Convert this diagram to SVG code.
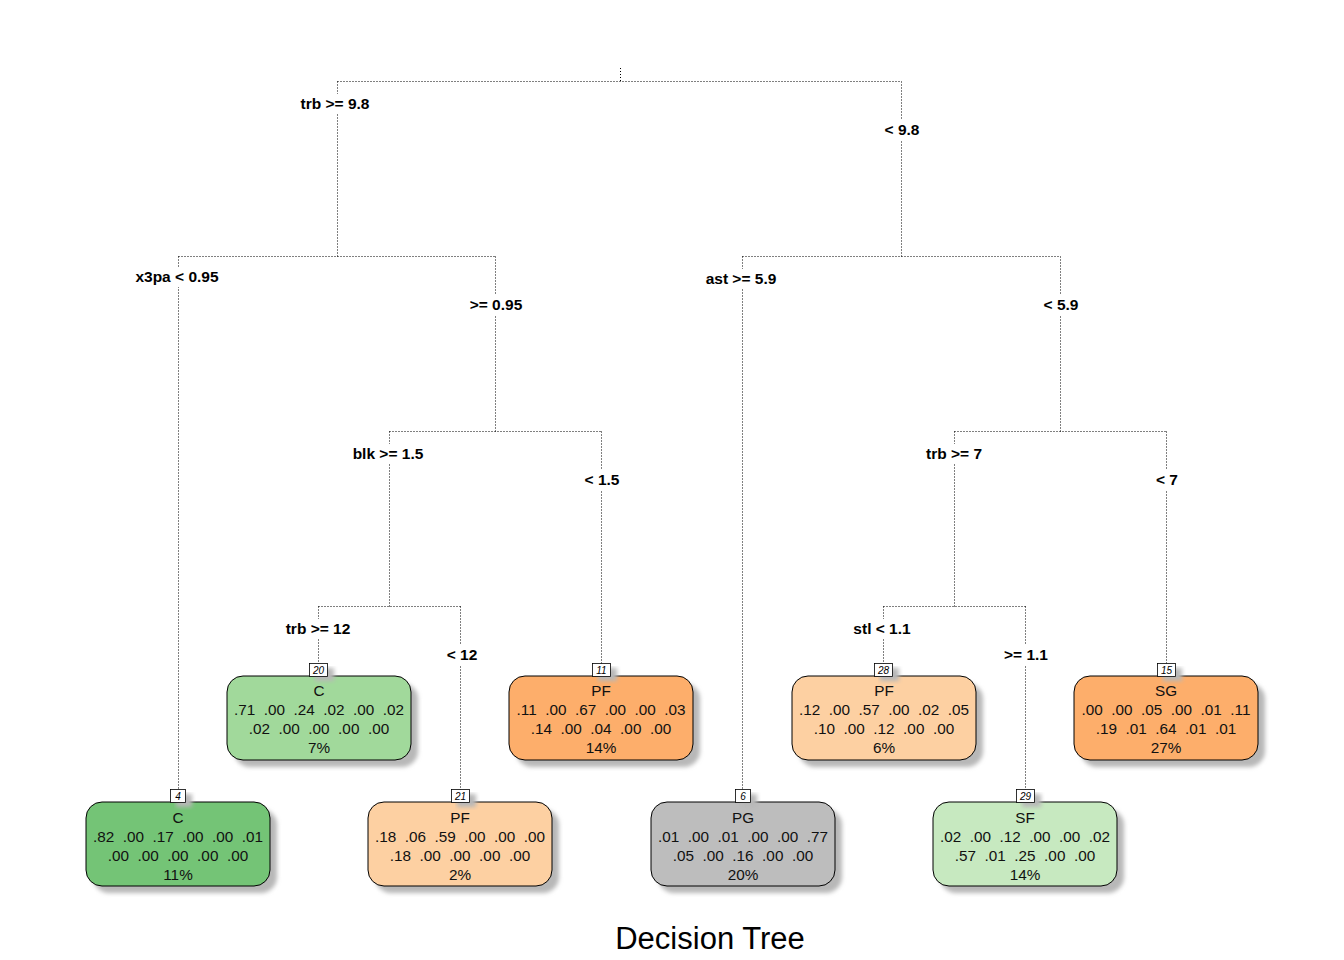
<svg xmlns="http://www.w3.org/2000/svg" width="1344" height="960" viewBox="0 0 1344 960">
<defs>
<filter id="blur" x="-10%" y="-10%" width="130%" height="130%"><feGaussianBlur stdDeviation="2"/></filter>
</defs>
<style>
.e{stroke:#000;stroke-width:1;stroke-dasharray:1 2;fill:none}
.lbl{font-family:"Liberation Sans",Arial,sans-serif;font-weight:bold;font-size:15.5px;text-anchor:middle;fill:#000}
.bg{fill:#fff}
.box{stroke:#000;stroke-width:1}
.sh{fill:#b8b8b8;filter:url(#blur)}
.t{font-family:"Liberation Sans",Arial,sans-serif;font-size:15.3px;text-anchor:middle;fill:#111;white-space:pre}
.nb{fill:#fff;stroke:#000;stroke-width:0.8}
.nt{font-family:"Liberation Sans",Arial,sans-serif;font-size:10px;font-style:italic;text-anchor:middle;fill:#000}
.title{font-family:"Liberation Sans",Arial,sans-serif;font-size:31px;text-anchor:middle;fill:#000}
</style>
<rect width="1344" height="960" fill="#fff"/>
<g id="connectors">
<path class="e" d="M620.5 68V81.5M337.5 81.5H901.5M337.5 81.5V256.5M901.5 81.5V256.5"/>
<path class="e" d="M178.5 256.5H495.5M178.5 256.5V790M495.5 256.5V431.5"/>
<path class="e" d="M389.5 431.5H601.5M389.5 431.5V606.5M601.5 431.5V664"/>
<path class="e" d="M318.5 606.5H460.5M318.5 606.5V664M460.5 606.5V790"/>
<path class="e" d="M742.5 256.5H1060.5M742.5 256.5V790M1060.5 256.5V431.5"/>
<path class="e" d="M954.5 431.5H1166.5M954.5 431.5V606.5M1166.5 431.5V664"/>
<path class="e" d="M883.5 606.5H1025.5M883.5 606.5V664M1025.5 606.5V790"/>
</g>
<g id="labels">
<rect class="bg" x="298" y="94" width="74" height="20"/>
<text class="lbl" x="335" y="109">trb &gt;= 9.8</text>
<rect class="bg" x="882" y="120" width="40" height="20"/>
<text class="lbl" x="902" y="135">&lt; 9.8</text>
<rect class="bg" x="133" y="267" width="88" height="20"/>
<text class="lbl" x="177" y="282">x3pa &lt; 0.95</text>
<rect class="bg" x="467" y="295" width="58" height="20"/>
<text class="lbl" x="496" y="310">&gt;= 0.95</text>
<rect class="bg" x="704" y="269" width="74" height="20"/>
<text class="lbl" x="741" y="284">ast &gt;= 5.9</text>
<rect class="bg" x="1041" y="295" width="40" height="20"/>
<text class="lbl" x="1061" y="310">&lt; 5.9</text>
<rect class="bg" x="351" y="444" width="74" height="20"/>
<text class="lbl" x="388" y="459">blk &gt;= 1.5</text>
<rect class="bg" x="582" y="470" width="40" height="20"/>
<text class="lbl" x="602" y="485">&lt; 1.5</text>
<rect class="bg" x="925" y="444" width="58" height="20"/>
<text class="lbl" x="954" y="459">trb &gt;= 7</text>
<rect class="bg" x="1154" y="470" width="26" height="20"/>
<text class="lbl" x="1167" y="485">&lt; 7</text>
<rect class="bg" x="284" y="619" width="68" height="20"/>
<text class="lbl" x="318" y="634">trb &gt;= 12</text>
<rect class="bg" x="445" y="645" width="34" height="20"/>
<text class="lbl" x="462" y="660">&lt; 12</text>
<rect class="bg" x="852" y="619" width="60" height="20"/>
<text class="lbl" x="882" y="634">stl &lt; 1.1</text>
<rect class="bg" x="1002" y="645" width="48" height="20"/>
<text class="lbl" x="1026" y="660">&gt;= 1.1</text>
</g>
<g id="node4">
<rect class="sh" x="93" y="809" width="184" height="84" rx="16"/>
<rect class="box" x="86" y="802" width="184" height="84" rx="16" fill="#74C476"/>
<rect class="sh" x="176" y="794" width="16" height="13"/>
<rect class="nb" x="170.5" y="789.5" width="15" height="13"/>
<text class="nt" x="178" y="800">4</text>
<text class="t" x="178" y="823">C</text>
<text class="t" x="178" y="842">.82  .00  .17  .00  .00  .01</text>
<text class="t" x="178" y="861">.00  .00  .00  .00  .00</text>
<text class="t" x="178" y="880">11%</text>
</g>
<g id="node20">
<rect class="sh" x="234" y="683" width="184" height="84" rx="16"/>
<rect class="box" x="227" y="676" width="184" height="84" rx="16" fill="#A1D99B"/>
<rect class="sh" x="315" y="668" width="19" height="13"/>
<rect class="nb" x="309.5" y="663.5" width="18" height="13"/>
<text class="nt" x="318.5" y="674">20</text>
<text class="t" x="319" y="696">C</text>
<text class="t" x="319" y="715">.71  .00  .24  .02  .00  .02</text>
<text class="t" x="319" y="734">.02  .00  .00  .00  .00</text>
<text class="t" x="319" y="753">7%</text>
</g>
<g id="node21">
<rect class="sh" x="375" y="809" width="184" height="84" rx="16"/>
<rect class="box" x="368" y="802" width="184" height="84" rx="16" fill="#FDD0A2"/>
<rect class="sh" x="457" y="794" width="19" height="13"/>
<rect class="nb" x="451.5" y="789.5" width="18" height="13"/>
<text class="nt" x="460.5" y="800">21</text>
<text class="t" x="460" y="823">PF</text>
<text class="t" x="460" y="842">.18  .06  .59  .00  .00  .00</text>
<text class="t" x="460" y="861">.18  .00  .00  .00  .00</text>
<text class="t" x="460" y="880">2%</text>
</g>
<g id="node11">
<rect class="sh" x="516" y="683" width="184" height="84" rx="16"/>
<rect class="box" x="509" y="676" width="184" height="84" rx="16" fill="#FDAE6B"/>
<rect class="sh" x="598" y="668" width="19" height="13"/>
<rect class="nb" x="592.5" y="663.5" width="18" height="13"/>
<text class="nt" x="601.5" y="674">11</text>
<text class="t" x="601" y="696">PF</text>
<text class="t" x="601" y="715">.11  .00  .67  .00  .00  .03</text>
<text class="t" x="601" y="734">.14  .00  .04  .00  .00</text>
<text class="t" x="601" y="753">14%</text>
</g>
<g id="node6">
<rect class="sh" x="658" y="809" width="184" height="84" rx="16"/>
<rect class="box" x="651" y="802" width="184" height="84" rx="16" fill="#BDBDBD"/>
<rect class="sh" x="741" y="794" width="16" height="13"/>
<rect class="nb" x="735.5" y="789.5" width="15" height="13"/>
<text class="nt" x="743" y="800">6</text>
<text class="t" x="743" y="823">PG</text>
<text class="t" x="743" y="842">.01  .00  .01  .00  .00  .77</text>
<text class="t" x="743" y="861">.05  .00  .16  .00  .00</text>
<text class="t" x="743" y="880">20%</text>
</g>
<g id="node28">
<rect class="sh" x="799" y="683" width="184" height="84" rx="16"/>
<rect class="box" x="792" y="676" width="184" height="84" rx="16" fill="#FDD0A2"/>
<rect class="sh" x="880" y="668" width="19" height="13"/>
<rect class="nb" x="874.5" y="663.5" width="18" height="13"/>
<text class="nt" x="883.5" y="674">28</text>
<text class="t" x="884" y="696">PF</text>
<text class="t" x="884" y="715">.12  .00  .57  .00  .02  .05</text>
<text class="t" x="884" y="734">.10  .00  .12  .00  .00</text>
<text class="t" x="884" y="753">6%</text>
</g>
<g id="node29">
<rect class="sh" x="940" y="809" width="184" height="84" rx="16"/>
<rect class="box" x="933" y="802" width="184" height="84" rx="16" fill="#C7E9C0"/>
<rect class="sh" x="1022" y="794" width="19" height="13"/>
<rect class="nb" x="1016.5" y="789.5" width="18" height="13"/>
<text class="nt" x="1025.5" y="800">29</text>
<text class="t" x="1025" y="823">SF</text>
<text class="t" x="1025" y="842">.02  .00  .12  .00  .00  .02</text>
<text class="t" x="1025" y="861">.57  .01  .25  .00  .00</text>
<text class="t" x="1025" y="880">14%</text>
</g>
<g id="node15">
<rect class="sh" x="1081" y="683" width="184" height="84" rx="16"/>
<rect class="box" x="1074" y="676" width="184" height="84" rx="16" fill="#FDAE6B"/>
<rect class="sh" x="1163" y="668" width="19" height="13"/>
<rect class="nb" x="1157.5" y="663.5" width="18" height="13"/>
<text class="nt" x="1166.5" y="674">15</text>
<text class="t" x="1166" y="696">SG</text>
<text class="t" x="1166" y="715">.00  .00  .05  .00  .01  .11</text>
<text class="t" x="1166" y="734">.19  .01  .64  .01  .01</text>
<text class="t" x="1166" y="753">27%</text>
</g>
<text class="title" x="710" y="949">Decision Tree</text>
</svg>
